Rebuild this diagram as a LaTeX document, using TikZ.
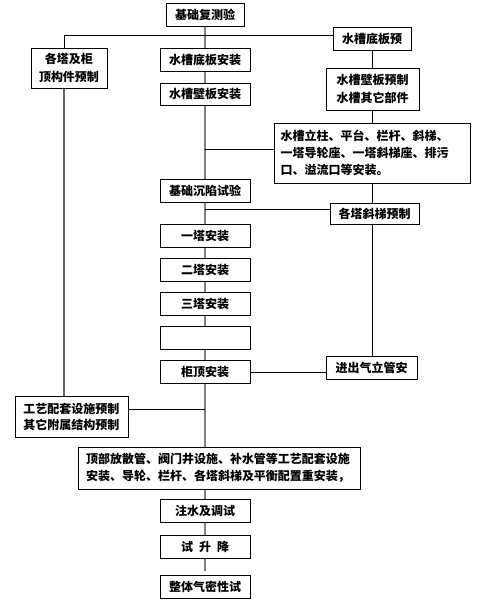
\documentclass[tikz,border=0pt]{standalone}
\usepackage{fontspec}
\setmainfont{Noto Sans CJK SC}
\usetikzlibrary{calc, positioning}

\begin{document}
\begin{tikzpicture}[x=0.75pt, y=-0.75pt, font=\bfseries\fontsize{9pt}{12.5pt}\selectfont,
    box/.style={draw, fill=white, line width=0.75pt, inner sep=2pt, minimum height=17.25pt},
    trunk/.style={draw=black!50, line width=1.25pt},
    side/.style={draw=black!60, line width=0.9pt},
    branch/.style={draw=black, line width=0.7pt}]
                        \useasboundingbox (0,0) rectangle (483,615);
                        \node[box, minimum width=58.5pt] (base) at (205,14.5) {基础复测验};
                        \node[box, minimum width=67.5pt] (a1) at (205,59.5) {水槽底板安装};
                        \node[box, minimum width=67.5pt, minimum height=16.5pt] (a2) at (205,94) {水槽壁板安装};
                        \node[box, minimum width=67.5pt] (a3) at (205,190.5) {基础沉陷试验};
                        \foreach \n/\y/\t in {t1/235.5/一塔安装, t2/270/二塔安装, t3/304/三塔安装, t0/337.5/{}, gd/372/柜顶安装} {
                            \node[box, minimum width=67.5pt] (\n) at (205,\y) {\t};
                        }
                        \node[box, minimum width=211.5pt, minimum height=31.5pt, inner xsep=6pt, text width=199.5pt, align=left] (fs) at (219,468)
                            {顶部放散管、阀门井设施、补水管等工艺配套设施\\安装、导轮、栏杆、各塔斜梯及平衡配置重安装，};
                        \node[box, minimum width=67.5pt] (zs) at (205,510.5) {注水及调试};
                        \node[box, minimum width=67.5pt] (sj) at (205,546.5) {试\hspace{4.5pt}升\hspace{4.5pt}降};
                        \node[box, minimum width=67.5pt] (qm) at (205,586.5) {整体气密性试};
                        \coordinate (end) at (205,571);

                        \node[box, minimum width=58.5pt] (r1) at (372,38.5) {水槽底板预};
                        \node[box, minimum width=69.75pt, minimum height=31.5pt, align=center, font=\bfseries\fontsize{9pt}{13.5pt}\selectfont] (r2) at (372.5,89) {水槽壁板预制\\水槽其它部件};
                        \node[box, minimum width=147pt, minimum height=45pt, inner xsep=5pt, text width=137pt, align=left] (r3) at (372,153)
                            {水槽立柱、平台、栏杆、斜梯、\\一塔导轮座、一塔斜梯座、排污\\口、溢流口等安装。};
                        \node[box, minimum width=66.75pt, minimum height=15.75pt] (r4) at (374.5,213.5) {各塔斜梯预制};
                        \node[box, minimum width=68.25pt] (r5) at (371.5,367.5) {进出气立管安};

                        \node[box, minimum width=57pt, minimum height=30pt, align=center, font=\bfseries\fontsize{9pt}{13.5pt}\selectfont] (l1) at (69,68) {各塔及柜\\顶构件预制};
                        \node[box, minimum width=84.75pt, minimum height=30.75pt, align=center, font=\bfseries\fontsize{9pt}{12pt}\selectfont] (l2) at (71.5,416.5) {工艺配套设施预制\\其它附属结构预制};
                        \coordinate (lt) at (64,35);

                        \draw[trunk]
                        (base) -- (a1) -- (a2) -- (a3) -- (t1) -- (t2) -- (t3) -- (t0) -- (gd) -- (gd |- fs.north)
                        (gd |- fs.south) -- (zs) -- (sj) -- (end);

                        \draw[branch]
                        (lt) -- (lt -| r1.west)
                        (lt) -- (lt |- l1.north)
                        (r1.south) -- (r1.south |- r2.north)
                        (r1.south |- r2.south) -- (r1.south |- r3.north)
                        (r1.south |- r3.south) -- (r1.south |- r4.north)
                        (r1.south |- r4.south) -- (r1.south |- r5.north)
                        (gd.east) -- (gd.east -| r5.west);

                        \draw[side] (l1.south -| lt) -- (lt |- l2.north);

                        \coordinate (j1) at (205,149);
                        \coordinate (j2) at (205,209);
                        \coordinate (j3) at (205,409);
                        \draw[branch]
                        (j1) -- (j1 -| r3.west)
                        (j2) -- (j2 -| r4.west)
                        (j3 -| l2.east) -- (j3);
                    \end{tikzpicture}
\end{document}
